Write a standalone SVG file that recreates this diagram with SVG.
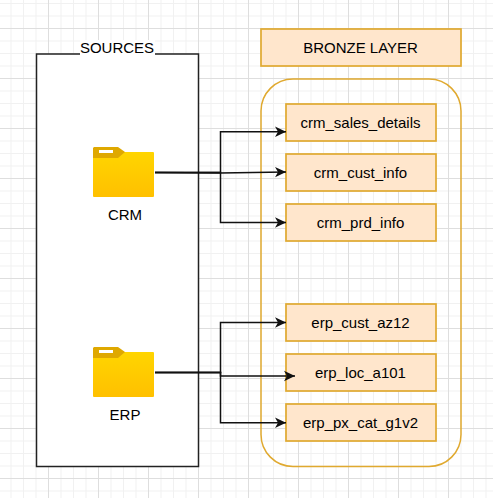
<svg xmlns="http://www.w3.org/2000/svg" width="493" height="498" viewBox="0 0 493 498">
<style>
text{font-family:"Liberation Sans",Arial,sans-serif;font-size:15px;fill:#000;text-anchor:middle}
.minor{stroke:#f1f1f1;stroke-width:1;fill:none}
.major{stroke:#dedede;stroke-width:1;fill:none}
.box{fill:#ffe6cc;stroke:#e0a92f;stroke-width:1.700}
.edge{fill:none;stroke:#111;stroke-width:1.500}
.tab{fill:#dfa800}
.front{fill:url(#fg)}
.slot{fill:#fff}
</style>
<defs>
<linearGradient id="fg" x1="0" y1="0" x2="0" y2="1"><stop offset="0" stop-color="#ffd500"/><stop offset="1" stop-color="#ffc000"/></linearGradient>
<marker id="a" markerUnits="userSpaceOnUse" markerWidth="12" markerHeight="12" refX="11" refY="6" orient="auto"><path d="M0 0.800 L11 6 L0 11.200 L3 6 Z" fill="#111"/></marker>
<symbol id="folder" overflow="visible"><path class="tab" d="M1 0H25L32 5V11H0V1Z"/><path class="front" d="M24 5H60Q61 5 61 6V49Q61 50 60 50H1Q0 50 0 49V11H25L32 5Z"/><rect class="slot" x="6" y="3" width="14" height="3"/></symbol>
</defs>
<rect width="493" height="498" fill="#fff"/>
<g id="grid">
<path class="minor" d="M11 0V498M23.500 0V498M36 0V498M61 0V498M73.500 0V498M86 0V498M111 0V498M123.500 0V498M136 0V498M161 0V498M173.500 0V498M186 0V498M211 0V498M223.500 0V498M236 0V498M261 0V498M273.500 0V498M286 0V498M311 0V498M323.500 0V498M336 0V498M361 0V498M373.500 0V498M386 0V498M411 0V498M423.500 0V498M436 0V498M461 0V498M473.500 0V498M486 0V498"/>
<path class="minor" d="M0 3.500H493M0 16H493M0 41H493M0 53.500H493M0 66H493M0 91H493M0 103.500H493M0 116H493M0 141H493M0 153.500H493M0 166H493M0 191H493M0 203.500H493M0 216H493M0 241H493M0 253.500H493M0 266H493M0 291H493M0 303.500H493M0 316H493M0 341H493M0 353.500H493M0 366H493M0 391H493M0 403.500H493M0 416H493M0 441H493M0 453.500H493M0 466H493M0 491H493"/>
<path class="major" d="M48.500 0V498M98.500 0V498M148.500 0V498M198.500 0V498M248.500 0V498M298.500 0V498M348.500 0V498M398.500 0V498M448.500 0V498"/>
<path class="major" d="M0 28.500H493M0 78.500H493M0 128.500H493M0 178.500H493M0 228.500H493M0 278.500H493M0 328.500H493M0 378.500H493M0 428.500H493M0 478.500H493"/>
</g>
<g id="sources">
<rect x="36.500" y="54" width="162" height="412.500" fill="#fff" stroke="#222" stroke-width="1.500"/>
<rect x="80" y="40" width="75" height="16" fill="#fff"/>
<text x="117" y="53">SOURCES</text>
</g>
<g id="bronze-layer"><rect class="box" x="261" y="29" width="200" height="37"/><text x="360.500" y="53">BRONZE LAYER</text></g>
<g id="bronze-container"><rect x="261" y="79" width="200" height="387.500" rx="32" ry="32" fill="none" stroke="#e0a92f" stroke-width="1.500"/></g>
<g id="crm"><use href="#folder" x="93" y="147"/><text x="125" y="220">CRM</text></g>
<g id="erp"><use href="#folder" x="93" y="347"/><text x="125" y="420">ERP</text></g>
<g id="crm_sales_details"><rect class="box" x="286" y="104" width="150" height="37"/><text x="360.500" y="128">crm_sales_details</text></g>
<g id="crm_cust_info"><rect class="box" x="286" y="154" width="150" height="37"/><text x="360.500" y="178">crm_cust_info</text></g>
<g id="crm_prd_info"><rect class="box" x="286" y="204" width="150" height="37"/><text x="360.500" y="228">crm_prd_info</text></g>
<g id="erp_cust_az12"><rect class="box" x="286" y="304" width="150" height="37"/><text x="360.500" y="328">erp_cust_az12</text></g>
<g id="erp_loc_a101"><rect class="box" x="286" y="354" width="150" height="37"/><text x="360.500" y="378">erp_loc_a101</text></g>
<g id="erp_px_cat_g1v2"><rect class="box" x="286" y="404" width="150" height="37"/><text x="360.500" y="428">erp_px_cat_g1v2</text></g>
<g id="connectors">
<path class="edge" marker-end="url(#a)" d="M155 172.500H220.500V131.800H286"/>
<path class="edge" marker-end="url(#a)" d="M155 172.500L220 173L286 172"/>
<path class="edge" marker-end="url(#a)" d="M155 172.500H220.500V222.500H286"/>
<path class="edge" marker-end="url(#a)" d="M155 372.500H220.500V322.500H286"/>
<path class="edge" marker-end="url(#a)" d="M155 372.500H220.500V376H295"/>
<path class="edge" marker-end="url(#a)" d="M155 372.500H220.500V422.700H286"/>
</g>
</svg>
